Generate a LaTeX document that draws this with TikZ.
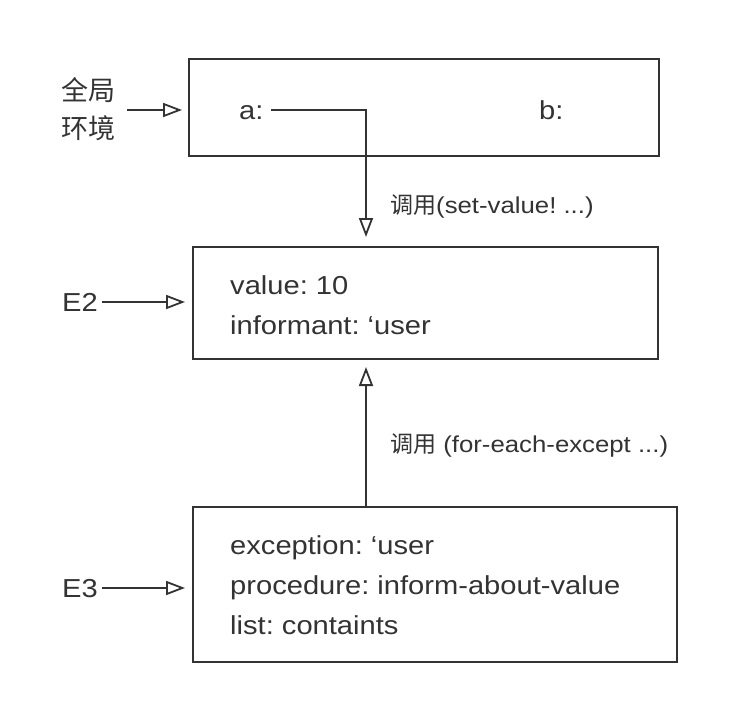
\documentclass[tikz,border=0pt]{standalone}
\usepackage{fontspec}
\setmainfont{Liberation Sans}[FakeStretch=1.12]
\newfontfamily\cjk{Noto Sans CJK SC}
\usetikzlibrary{arrows.meta}
\definecolor{ink}{HTML}{333333}
\frenchspacing
\begin{document}
\begin{tikzpicture}[x=1pt,y=-1pt,
  envbox/.style={draw=ink, line width=2pt, inner sep=0pt, minimum width=#1},
  txt/.style={text=ink, font=\fontsize{26}{30}\selectfont, inner sep=0pt, anchor=base west},
  cjktxt/.style={txt, font=\cjk\fontsize{27}{30}\selectfont},
  lbl/.style={text=ink, font=\fontsize{23}{26}\selectfont, inner sep=0pt, anchor=base west},
  conn/.style={draw=ink, line width=2pt, -{Triangle[open,length=19pt,width=14pt,line width=1.8pt]}}]
\fill[white] (0,0) rectangle (740,720);
\useasboundingbox (0,0) rectangle (740,720);
% boxes
\node[envbox=470pt, minimum height=97pt] (G) at (424,107.5) {};
\node[envbox=465pt, minimum height=112pt] (E2) at (425.5,303) {};
\node[envbox=484pt, minimum height=155pt] (E3) at (435,584.5) {};
% global frame contents
\node[txt] (a) at (239,119) {a:};
\node[txt] (b) at (539,119) {b:};
\node[cjktxt] (g1) at (61,100) {全局};
\node[cjktxt] (g2) at (61,138) {环境};
\coordinate (gin) at (127,110);
\draw[conn, shorten >=6pt] (gin) -- (G.west |- gin);
% E2
\node[txt] (v1) at (230,294) {value: 10};
\node[txt] (v2) at (230,334) {informant: ‘user};
\node[txt] (e2) at (62,311) {E2};
\coordinate (e2s) at (102,302);
\draw[conn, shorten >=7pt] (e2s) -- (E2.west |- e2s);
% E3
\node[txt] (w1) at (230,554) {exception: ‘user};
\node[txt] (w2) at (230,594) {procedure: inform-about-value};
\node[txt] (w3) at (230,634) {list: containts};
\node[txt] (e3) at (62,597) {E3};
\coordinate (e3s) at (102,588);
\draw[conn, shorten >=7pt] (e3s) -- (E3.west |- e3s);
% call connectors
\coordinate (astart) at (271,110);
\coordinate (turn) at (366,110);
\draw[conn, shorten >=9pt] (astart) -- (turn) -- (turn |- E2.north);
\node[lbl] (l1) at (390,213) {{\cjk 调用}(set-value! ...)};
\coordinate (up) at (366,507);
\draw[conn, shorten >=7pt] (up) -- (up |- E2.south);
\node[lbl] (l2) at (390,452) {{\cjk 调用} (for-each-except ...)};
\end{tikzpicture}
\end{document}
